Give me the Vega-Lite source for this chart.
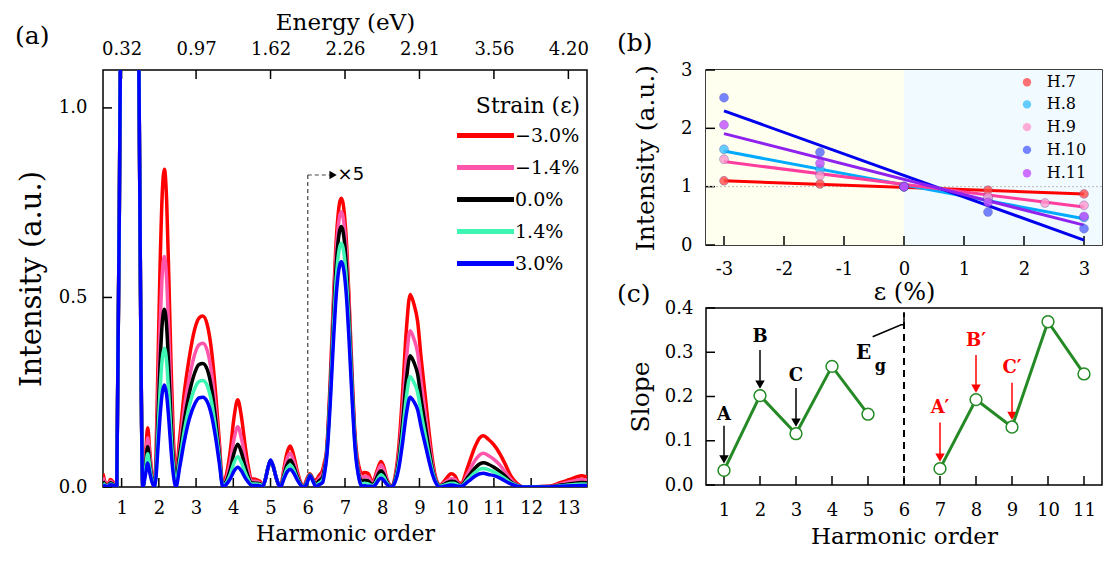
{
  "$schema": "https://vega.github.io/schema/vega-lite/v6.json",
  "padding": {"left": 14, "top": 10, "right": 0, "bottom": 0},
  "background": "white",
  "bounds": "flush",
  "spacing": 119,
  "resolve": {"scale": {"color": "independent", "stroke": "independent"}, "legend": {"color": "independent"}},
  "config": {
    "font": "DejaVu Serif",
    "view": {"stroke": "black", "strokeWidth": 1.5},
    "legend": {"padding": 0, "offset": 0},
    "title": {"font": "DejaVu Serif", "fontSize": 25, "fontWeight": "normal", "color": "black"},
    "text": {"font": "DejaVu Serif"}
  },
  "hconcat": [
    {
      "width": 484,
      "height": 417,
      "title": {"text": "(a)", "anchor": "start", "frame": "group", "dx": -88, "dy": 38, "offset": 0},
      "data": {"values": [
        {"h":0.5,"r":0.035,"p":0.025,"k":0.015,"g":0.01,"b":0.005},
        {"h":0.56,"r":0.012,"p":0.009,"k":0.006,"g":0.004,"b":0.003},
        {"h":0.62,"r":0.004,"p":0.003,"k":0.002,"g":0.002,"b":0.001},
        {"h":0.7,"r":0.02,"p":0.015,"k":0.011,"g":0.008,"b":0.006},
        {"h":0.78,"r":0.012,"p":0.009,"k":0.007,"g":0.005,"b":0.004},
        {"h":0.84,"r":0.003,"p":0.002,"k":0.002,"g":0.001,"b":0.001},
        {"h":0.87,"r":0,"p":0,"k":0,"g":0,"b":0},
        {"h":0.975,"r":1.25,"p":1.25,"k":1.25,"g":1.25,"b":1.25},
        {"h":1.2,"r":3,"p":3,"k":3,"g":3,"b":3},
        {"h":1.45,"r":1.25,"p":1.25,"k":1.25,"g":1.25,"b":1.25},
        {"h":1.57,"r":0,"p":0,"k":0,"g":0,"b":0},
        {"h":1.64,"r":0.078,"p":0.065,"k":0.053,"g":0.044,"b":0.032},
        {"h":1.7,"r":0.156,"p":0.13,"k":0.106,"g":0.088,"b":0.063},
        {"h":1.76,"r":0.09,"p":0.075,"k":0.06,"g":0.05,"b":0.036},
        {"h":1.82,"r":0.03,"p":0.025,"k":0.02,"g":0.016,"b":0.012},
        {"h":1.88,"r":0.005,"p":0.003,"k":0.002,"g":0.001,"b":0},
        {"h":1.92,"r":0.067,"p":0.049,"k":0.038,"g":0.029,"b":0.022},
        {"h":1.97,"r":0.293,"p":0.213,"k":0.164,"g":0.128,"b":0.094},
        {"h":2.03,"r":0.57,"p":0.413,"k":0.319,"g":0.249,"b":0.183},
        {"h":2.09,"r":0.771,"p":0.559,"k":0.431,"g":0.337,"b":0.247},
        {"h":2.15,"r":0.838,"p":0.608,"k":0.469,"g":0.366,"b":0.269},
        {"h":2.21,"r":0.754,"p":0.547,"k":0.422,"g":0.329,"b":0.242},
        {"h":2.27,"r":0.545,"p":0.395,"k":0.305,"g":0.238,"b":0.175},
        {"h":2.33,"r":0.313,"p":0.228,"k":0.174,"g":0.133,"b":0.094},
        {"h":2.39,"r":0.13,"p":0.093,"k":0.071,"g":0.052,"b":0.032},
        {"h":2.46,"r":0.04,"p":0.03,"k":0.02,"g":0.01,"b":0},
        {"h":2.56,"r":0.129,"p":0.103,"k":0.087,"g":0.07,"b":0.052},
        {"h":2.68,"r":0.246,"p":0.205,"k":0.173,"g":0.146,"b":0.119},
        {"h":2.82,"r":0.343,"p":0.288,"k":0.248,"g":0.214,"b":0.18},
        {"h":2.96,"r":0.415,"p":0.349,"k":0.3,"g":0.259,"b":0.218},
        {"h":3.08,"r":0.446,"p":0.375,"k":0.323,"g":0.278,"b":0.235},
        {"h":3.18,"r":0.451,"p":0.379,"k":0.326,"g":0.281,"b":0.237},
        {"h":3.3,"r":0.428,"p":0.36,"k":0.31,"g":0.267,"b":0.225},
        {"h":3.42,"r":0.356,"p":0.299,"k":0.258,"g":0.222,"b":0.187},
        {"h":3.52,"r":0.253,"p":0.212,"k":0.183,"g":0.157,"b":0.133},
        {"h":3.62,"r":0.126,"p":0.106,"k":0.091,"g":0.079,"b":0.066},
        {"h":3.72,"r":0.005,"p":0.004,"k":0.003,"g":0.002,"b":0},
        {"h":3.82,"r":0.035,"p":0.024,"k":0.017,"g":0.012,"b":0.008},
        {"h":3.92,"r":0.097,"p":0.067,"k":0.047,"g":0.034,"b":0.022},
        {"h":4.02,"r":0.184,"p":0.127,"k":0.09,"g":0.064,"b":0.042},
        {"h":4.12,"r":0.23,"p":0.159,"k":0.113,"g":0.08,"b":0.052},
        {"h":4.22,"r":0.184,"p":0.127,"k":0.09,"g":0.064,"b":0.042},
        {"h":4.32,"r":0.107,"p":0.075,"k":0.053,"g":0.038,"b":0.024},
        {"h":4.4,"r":0.055,"p":0.039,"k":0.027,"g":0.02,"b":0.013},
        {"h":4.48,"r":0.022,"p":0.016,"k":0.011,"g":0.008,"b":0.005},
        {"h":4.6,"r":0.02,"p":0.015,"k":0.01,"g":0.008,"b":0.004},
        {"h":4.72,"r":0.015,"p":0.011,"k":0.008,"g":0.006,"b":0.003},
        {"h":4.78,"r":0,"p":0,"k":0,"g":0,"b":0},
        {"h":4.86,"r":0.02,"p":0.02,"k":0.02,"g":0.02,"b":0.02},
        {"h":4.93,"r":0.05,"p":0.05,"k":0.05,"g":0.05,"b":0.05},
        {"h":5.0,"r":0.068,"p":0.069,"k":0.07,"g":0.07,"b":0.071},
        {"h":5.07,"r":0.055,"p":0.055,"k":0.055,"g":0.055,"b":0.055},
        {"h":5.15,"r":0.025,"p":0.025,"k":0.025,"g":0.025,"b":0.025},
        {"h":5.22,"r":0.005,"p":0.005,"k":0.005,"g":0.005,"b":0.005},
        {"h":5.27,"r":0,"p":0,"k":0,"g":0,"b":0},
        {"h":5.35,"r":0.043,"p":0.036,"k":0.028,"g":0.023,"b":0.019},
        {"h":5.44,"r":0.089,"p":0.073,"k":0.058,"g":0.048,"b":0.039},
        {"h":5.53,"r":0.108,"p":0.089,"k":0.071,"g":0.058,"b":0.047},
        {"h":5.62,"r":0.084,"p":0.069,"k":0.055,"g":0.045,"b":0.037},
        {"h":5.72,"r":0.041,"p":0.034,"k":0.027,"g":0.022,"b":0.018},
        {"h":5.82,"r":0.009,"p":0.007,"k":0.006,"g":0.005,"b":0.004},
        {"h":5.88,"r":0,"p":0,"k":0,"g":0,"b":0},
        {"h":5.97,"r":0.02,"p":0.015,"k":0.012,"g":0.01,"b":0.008},
        {"h":6.06,"r":0.035,"p":0.033,"k":0.032,"g":0.031,"b":0.03},
        {"h":6.14,"r":0.022,"p":0.02,"k":0.018,"g":0.016,"b":0.015},
        {"h":6.22,"r":0.018,"p":0.012,"k":0.008,"g":0.004,"b":0},
        {"h":6.3,"r":0.03,"p":0.022,"k":0.016,"g":0.01,"b":0.006},
        {"h":6.4,"r":0.045,"p":0.035,"k":0.026,"g":0.019,"b":0.012},
        {"h":6.45,"r":0.066,"p":0.056,"k":0.049,"g":0.039,"b":0.036},
        {"h":6.5,"r":0.091,"p":0.087,"k":0.082,"g":0.077,"b":0.071},
        {"h":6.55,"r":0.168,"p":0.16,"k":0.151,"g":0.141,"b":0.131},
        {"h":6.6,"r":0.274,"p":0.261,"k":0.247,"g":0.231,"b":0.214},
        {"h":6.65,"r":0.396,"p":0.378,"k":0.357,"g":0.334,"b":0.309},
        {"h":6.7,"r":0.518,"p":0.494,"k":0.467,"g":0.437,"b":0.404},
        {"h":6.75,"r":0.625,"p":0.595,"k":0.563,"g":0.527,"b":0.487},
        {"h":6.8,"r":0.701,"p":0.668,"k":0.632,"g":0.592,"b":0.546},
        {"h":6.85,"r":0.747,"p":0.711,"k":0.673,"g":0.63,"b":0.582},
        {"h":6.9,"r":0.762,"p":0.726,"k":0.687,"g":0.643,"b":0.594},
        {"h":6.95,"r":0.747,"p":0.711,"k":0.673,"g":0.63,"b":0.582},
        {"h":7.0,"r":0.701,"p":0.668,"k":0.632,"g":0.592,"b":0.546},
        {"h":7.05,"r":0.625,"p":0.595,"k":0.563,"g":0.527,"b":0.487},
        {"h":7.1,"r":0.518,"p":0.494,"k":0.467,"g":0.437,"b":0.404},
        {"h":7.15,"r":0.396,"p":0.378,"k":0.357,"g":0.334,"b":0.309},
        {"h":7.2,"r":0.274,"p":0.261,"k":0.247,"g":0.231,"b":0.214},
        {"h":7.25,"r":0.168,"p":0.16,"k":0.151,"g":0.141,"b":0.131},
        {"h":7.3,"r":0.101,"p":0.092,"k":0.084,"g":0.077,"b":0.071},
        {"h":7.35,"r":0.066,"p":0.054,"k":0.045,"g":0.039,"b":0.036},
        {"h":7.4,"r":0.045,"p":0.033,"k":0.022,"g":0.015,"b":0.012},
        {"h":7.45,"r":0.035,"p":0.025,"k":0.015,"g":0.008,"b":0.002},
        {"h":7.52,"r":0.038,"p":0.028,"k":0.018,"g":0.01,"b":0.003},
        {"h":7.62,"r":0.036,"p":0.026,"k":0.016,"g":0.008,"b":0.002},
        {"h":7.7,"r":0.02,"p":0.014,"k":0.009,"g":0.005,"b":0.002},
        {"h":7.76,"r":0.015,"p":0.01,"k":0.006,"g":0.004,"b":0.001},
        {"h":7.84,"r":0.037,"p":0.03,"k":0.021,"g":0.014,"b":0.009},
        {"h":7.91,"r":0.057,"p":0.049,"k":0.037,"g":0.027,"b":0.02},
        {"h":7.97,"r":0.067,"p":0.058,"k":0.043,"g":0.032,"b":0.023},
        {"h":8.04,"r":0.054,"p":0.046,"k":0.034,"g":0.026,"b":0.018},
        {"h":8.12,"r":0.023,"p":0.02,"k":0.015,"g":0.011,"b":0.008},
        {"h":8.2,"r":0.005,"p":0.004,"k":0.003,"g":0.002,"b":0.001},
        {"h":8.25,"r":0,"p":0,"k":0,"g":0,"b":0},
        {"h":8.35,"r":0.03,"p":0.025,"k":0.021,"g":0.017,"b":0.014},
        {"h":8.45,"r":0.112,"p":0.091,"k":0.076,"g":0.064,"b":0.052},
        {"h":8.55,"r":0.254,"p":0.206,"k":0.173,"g":0.146,"b":0.119},
        {"h":8.65,"r":0.417,"p":0.338,"k":0.284,"g":0.239,"b":0.194},
        {"h":8.75,"r":0.508,"p":0.412,"k":0.346,"g":0.291,"b":0.237},
        {"h":8.85,"r":0.483,"p":0.391,"k":0.329,"g":0.276,"b":0.225},
        {"h":8.95,"r":0.437,"p":0.354,"k":0.298,"g":0.25,"b":0.204},
        {"h":9.05,"r":0.335,"p":0.272,"k":0.228,"g":0.192,"b":0.156},
        {"h":9.15,"r":0.244,"p":0.198,"k":0.166,"g":0.14,"b":0.114},
        {"h":9.25,"r":0.152,"p":0.124,"k":0.104,"g":0.087,"b":0.071},
        {"h":9.35,"r":0.071,"p":0.058,"k":0.048,"g":0.041,"b":0.033},
        {"h":9.45,"r":0.02,"p":0.016,"k":0.014,"g":0.012,"b":0.009},
        {"h":9.55,"r":0.005,"p":0.004,"k":0.003,"g":0.002,"b":0},
        {"h":9.7,"r":0.02,"p":0.013,"k":0.009,"g":0.006,"b":0.003},
        {"h":9.85,"r":0.035,"p":0.022,"k":0.015,"g":0.01,"b":0.005},
        {"h":9.95,"r":0.03,"p":0.02,"k":0.014,"g":0.009,"b":0.004},
        {"h":10.05,"r":0.012,"p":0.008,"k":0.006,"g":0.004,"b":0.002},
        {"h":10.12,"r":0.01,"p":0.006,"k":0.004,"g":0.003,"b":0.002},
        {"h":10.3,"r":0.054,"p":0.036,"k":0.026,"g":0.02,"b":0.014},
        {"h":10.5,"r":0.108,"p":0.071,"k":0.051,"g":0.039,"b":0.029},
        {"h":10.62,"r":0.13,"p":0.085,"k":0.061,"g":0.047,"b":0.035},
        {"h":10.72,"r":0.135,"p":0.089,"k":0.064,"g":0.049,"b":0.036},
        {"h":10.85,"r":0.126,"p":0.083,"k":0.06,"g":0.046,"b":0.033},
        {"h":11.0,"r":0.111,"p":0.073,"k":0.052,"g":0.04,"b":0.03},
        {"h":11.15,"r":0.089,"p":0.059,"k":0.042,"g":0.032,"b":0.024},
        {"h":11.3,"r":0.061,"p":0.04,"k":0.029,"g":0.022,"b":0.016},
        {"h":11.45,"r":0.03,"p":0.02,"k":0.014,"g":0.011,"b":0.008},
        {"h":11.6,"r":0.011,"p":0.007,"k":0.005,"g":0.004,"b":0.003},
        {"h":11.8,"r":0,"p":0,"k":0,"g":0,"b":0},
        {"h":12.5,"r":0.002,"p":0.001,"k":0.001,"g":0,"b":0},
        {"h":12.8,"r":0.012,"p":0.008,"k":0.005,"g":0.003,"b":0.002},
        {"h":13.1,"r":0.022,"p":0.015,"k":0.009,"g":0.006,"b":0.003},
        {"h":13.35,"r":0.03,"p":0.02,"k":0.012,"g":0.008,"b":0.004},
        {"h":13.5,"r":0.026,"p":0.018,"k":0.011,"g":0.007,"b":0.004}
      ]},
      "layer": [
        {
          "data": {"values": [{"h": 1}, {"h": 2}, {"h": 3}, {"h": 4}, {"h": 5}, {"h": 6}, {"h": 7}, {"h": 8}, {"h": 9}, {"h": 10}, {"h": 11}, {"h": 12}, {"h": 13}]},
          "mark": {"type": "rule", "strokeWidth": 1.5, "color": "black"},
          "encoding": {
            "x": {"field": "h", "type": "quantitative", "axis": null},
            "y": {"datum": 0, "type": "quantitative", "axis": null},
            "y2": {"datum": 0.0237}
          }
        },
        {
          "data": {"values": [{"h": 1}, {"h": 3}, {"h": 5}, {"h": 7}, {"h": 9}, {"h": 11}, {"h": 13}]},
          "mark": {"type": "rule", "strokeWidth": 1.5, "color": "black"},
          "encoding": {
            "x": {"field": "h", "type": "quantitative", "axis": null},
            "y": {"datum": 1.1, "type": "quantitative", "axis": null},
            "y2": {"datum": 1.0763}
          }
        },
        {
          "data": {"values": [{"v": 0}, {"v": 0.5}, {"v": 1}]},
          "mark": {"type": "rule", "strokeWidth": 1.5, "color": "black"},
          "encoding": {
            "y": {"field": "v", "type": "quantitative", "axis": null},
            "x": {"datum": 0.5, "type": "quantitative", "axis": null},
            "x2": {"datum": 0.742}
          }
        },
        {
          "data": {"values": [{"h": 6.0, "y": 0, "y2": 0.823}]},
          "mark": {"type": "rule", "strokeDash": [4, 3], "strokeWidth": 1.2, "color": "#444444"},
          "encoding": {
            "x": {"field": "h", "type": "quantitative", "axis": null},
            "y": {"field": "y", "type": "quantitative", "axis": null},
            "y2": {"field": "y2"}
          }
        },
        {
          "data": {"values": [{"h": 6.0, "h2": 6.6, "y": 0.823}]},
          "mark": {"type": "rule", "strokeDash": [4, 3], "strokeWidth": 1.2, "color": "#444444"},
          "encoding": {
            "x": {"field": "h", "type": "quantitative", "axis": null},
            "x2": {"field": "h2"},
            "y": {"field": "y", "type": "quantitative", "axis": null}
          }
        },
        {
          "data": {"values": [{"h": 6.68, "y": 0.823}]},
          "mark": {"type": "point", "shape": "triangle-right", "filled": true, "size": 70, "color": "black", "opacity": 1},
          "encoding": {
            "x": {"field": "h", "type": "quantitative", "axis": null},
            "y": {"field": "y", "type": "quantitative", "axis": null}
          }
        },
        {
          "data": {"values": [{"h": 6.8, "y": 0.823, "t": "×5"}]},
          "mark": {"type": "text", "align": "left", "baseline": "middle", "font": "DejaVu Sans", "fontSize": 18, "color": "black"},
          "encoding": {
            "x": {"field": "h", "type": "quantitative", "axis": null},
            "y": {"field": "y", "type": "quantitative", "axis": null},
            "text": {"field": "t"}
          }
        },
        {
          "transform": [{"fold": ["r", "p", "k", "g", "b"], "as": ["s", "y"]}],
          "mark": {"type": "line", "interpolate": "monotone", "strokeWidth": 3.5, "clip": true},
          "encoding": {
            "x": {"field": "h", "type": "quantitative", "scale": {"domain": [0.5, 13.5], "nice": false, "zero": false},
                  "axis": {"values": [1,2,3,4,5,6,7,8,9,10,11,12,13], "title": "Harmonic order", "labelPadding": 12, "titlePadding": 6,
                           "labelFont": "DejaVu Serif", "titleFont": "DejaVu Serif", "labelFontSize": 18, "titleFontSize": 22, "labelColor": "black", "titleColor": "black", "titleFontWeight": "normal", "ticks": true, "tickSize": 0, "tickOpacity": 0, "offset": 0, "domain": false, "grid": false, "labelOverlap": false, "labelFlush": false, "labelBound": false}},
            "y": {"field": "y", "type": "quantitative", "scale": {"domain": [0, 1.1], "nice": false},
                  "axis": {"values": [0, 0.5, 1], "format": ".1f", "title": "Intensity (a.u.)", "labelPadding": 16, "titlePadding": 12,
                           "labelFont": "DejaVu Serif", "titleFont": "DejaVu Serif", "labelFontSize": 18, "titleFontSize": 29, "labelColor": "black", "titleColor": "black", "titleFontWeight": "normal", "ticks": true, "tickSize": 0, "tickOpacity": 0, "offset": 0, "domain": false, "grid": false, "labelOverlap": false, "labelFlush": false, "labelBound": false}},
            "color": {"field": "s", "type": "nominal",
                      "scale": {"domain": ["r", "p", "k", "g", "b"], "range": ["#ff0000", "#ff55aa", "#000000", "#3ff5b4", "#0000ff"]},
                      "legend": {"orient": "none", "legendX": 373, "legendY": 26, "zindex": 1, "title": "Strain (ε)", "titleFont": "DejaVu Serif", "labelFont": "DejaVu Serif", "titleColor": "black", "labelColor": "black", "titleFontWeight": "normal", "titleFontSize": 22, "titleAnchor": "middle", "titlePadding": 8, "labelFontSize": 19,
                                 "symbolType": "M-5,0H5", "symbolSize": 130, "symbolStrokeWidth": 5, "rowPadding": 11, "labelOffset": 20,
                                 "labelExpr": "datum.label == 'r' ? '−3.0%' : datum.label == 'p' ? '−1.4%' : datum.label == 'k' ? '\u00a0\u00a00.0%' : datum.label == 'g' ? '\u00a0\u00a01.4%' : '\u00a0\u00a03.0%'"}}
          }
        },
        {
          "data": {"values": [{"h": 1}]},
          "mark": {"type": "rule", "opacity": 0},
          "encoding": {
            "x": {"field": "h", "type": "quantitative",
                  "axis": {"orient": "top", "values": [1, 3, 5, 7, 9, 11, 13], "title": "Energy (eV)", "labelPadding": 12, "titlePadding": 6,
                           "labelFont": "DejaVu Serif", "titleFont": "DejaVu Serif", "labelFontSize": 18, "titleFontSize": 23, "labelColor": "black", "titleColor": "black", "titleFontWeight": "normal", "ticks": true, "tickSize": 0, "tickOpacity": 0, "offset": 0, "domain": false, "grid": false, "labelOverlap": false, "labelFlush": false, "labelBound": false,
                           "labelExpr": "datum.value == 1 ? '0.32' : datum.value == 3 ? '0.97' : datum.value == 5 ? '1.62' : datum.value == 7 ? '2.26' : datum.value == 9 ? '2.91' : datum.value == 11 ? '3.56' : '4.20'"}}
          }
        }
      ],
      "resolve": {"axis": {"x": "independent", "y": "independent"}}
    },
    {
      "vconcat": [
        {
          "width": 396,
          "height": 175,
          "title": {"text": "(b)", "anchor": "start", "frame": "group", "dx": -89, "offset": 5},
          "layer": [
            {
              "data": {"values": [{"x": -3.3, "x2": 0}]},
              "mark": {"type": "rect", "color": "#fffff0"},
              "encoding": {
                "x": {"field": "x", "type": "quantitative", "scale": {"domain": [-3.3, 3.3], "nice": false, "zero": false},
                      "axis": {"values": [-3, -2, -1, 0, 1, 2, 3], "labelExpr": "'' + datum.value", "title": "ε (%)", "labelPadding": 15, "titlePadding": 2,
                               "labelFont": "DejaVu Serif", "titleFont": "DejaVu Serif", "labelFontSize": 18, "titleFontSize": 24, "labelColor": "black", "titleColor": "black", "titleFontWeight": "normal", "ticks": true, "tickSize": 0, "tickOpacity": 0, "offset": 0, "domain": false, "grid": false, "labelOverlap": false, "labelFlush": false, "labelBound": false}},
                "x2": {"field": "x2"}
              }
            },
            {
              "data": {"values": [{"x": 0, "x2": 3.3}]},
              "mark": {"type": "rect", "color": "#f0faff"},
              "encoding": {
                "x": {"field": "x", "type": "quantitative", "axis": null},
                "x2": {"field": "x2"}
              }
            },
            {
              "data": {"values": [{"v": -3}, {"v": -2}, {"v": -1}, {"v": 0}, {"v": 1}, {"v": 2}, {"v": 3}]},
              "mark": {"type": "rule", "strokeWidth": 1.5, "color": "black"},
              "encoding": {
                "x": {"field": "v", "type": "quantitative", "axis": null},
                "y": {"datum": 0, "type": "quantitative", "axis": null},
                "y2": {"datum": 0.154}
              }
            },
            {
              "data": {"values": [{"v": 0}, {"v": 1}, {"v": 2}, {"v": 3}]},
              "mark": {"type": "rule", "strokeWidth": 1.5, "color": "black"},
              "encoding": {
                "y": {"field": "v", "type": "quantitative", "axis": null},
                "x": {"datum": -3.3, "type": "quantitative", "axis": null},
                "x2": {"datum": -3.15}
              }
            },
            {
              "data": {"values": [{"y": 1}]},
              "mark": {"type": "rule", "strokeDash": [2, 2], "color": "#bbbbbb", "strokeWidth": 1},
              "encoding": {"y": {"field": "y", "type": "quantitative", "axis": null}}
            },
            {
              "data": {"values": [
                {"x": -3, "y": 1.10, "L": "H.7"}, {"x": 3, "y": 0.875, "L": "H.7"},
                {"x": -3, "y": 1.61, "L": "H.8"}, {"x": 3, "y": 0.45, "L": "H.8"},
                {"x": -3, "y": 1.43, "L": "H.9"}, {"x": 3, "y": 0.65, "L": "H.9"},
                {"x": -3, "y": 2.30, "L": "H.10"}, {"x": 3, "y": 0.085, "L": "H.10"},
                {"x": -3, "y": 1.91, "L": "H.11"}, {"x": 3, "y": 0.34, "L": "H.11"}
              ]},
              "mark": {"type": "line", "strokeWidth": 3},
              "encoding": {
                "x": {"field": "x", "type": "quantitative", "axis": null},
                "y": {"field": "y", "type": "quantitative", "scale": {"domain": [0, 3], "nice": false},
                      "axis": {"values": [0, 1, 2, 3], "format": "d", "title": "Intensity (a.u.)", "labelPadding": 14, "titlePadding": 22,
                               "labelFont": "DejaVu Serif", "titleFont": "DejaVu Serif", "labelFontSize": 18, "titleFontSize": 25, "labelColor": "black", "titleColor": "black", "titleFontWeight": "normal", "ticks": true, "tickSize": 0, "tickOpacity": 0, "offset": 0, "domain": false, "grid": false, "labelOverlap": false, "labelFlush": false, "labelBound": false}},
                "stroke": {"field": "L", "type": "nominal", "scale": {"domain": ["H.7", "H.8", "H.9", "H.10", "H.11"], "range": ["#ff0000", "#00aaff", "#ff3d9e", "#0000ee", "#8f22ee"]}, "legend": null}
              }
            },
            {
              "data": {"values": [
                {"x": -3, "y": 1.10, "H": "H.7"}, {"x": -1.4, "y": 1.046, "H": "H.7"}, {"x": 0, "y": 1.0, "H": "H.7"}, {"x": 1.4, "y": 0.94, "H": "H.7"}, {"x": 3, "y": 0.876, "H": "H.7"},
                {"x": -3, "y": 1.64, "H": "H.8"}, {"x": -1.4, "y": 1.30, "H": "H.8"}, {"x": 0, "y": 1.0, "H": "H.8"}, {"x": 1.4, "y": 0.79, "H": "H.8"}, {"x": 3, "y": 0.47, "H": "H.8"},
                {"x": -3, "y": 1.47, "H": "H.9"}, {"x": -1.4, "y": 1.19, "H": "H.9"}, {"x": 0, "y": 1.0, "H": "H.9"}, {"x": 1.4, "y": 0.82, "H": "H.9"}, {"x": 2.35, "y": 0.72, "H": "H.9"}, {"x": 3, "y": 0.68, "H": "H.9"},
                {"x": -3, "y": 2.525, "H": "H.10"}, {"x": -1.4, "y": 1.59, "H": "H.10"}, {"x": 0, "y": 1.0, "H": "H.10"}, {"x": 1.4, "y": 0.565, "H": "H.10"}, {"x": 3, "y": 0.28, "H": "H.10"},
                {"x": -3, "y": 2.06, "H": "H.11"}, {"x": -1.4, "y": 1.40, "H": "H.11"}, {"x": 0, "y": 1.0, "H": "H.11"}, {"x": 1.4, "y": 0.73, "H": "H.11"}, {"x": 3, "y": 0.49, "H": "H.11"}
              ]},
              "mark": {"type": "point", "filled": true, "size": 80, "opacity": 0.8, "stroke": "#333399", "strokeOpacity": 0.35, "strokeWidth": 1},
              "encoding": {
                "x": {"field": "x", "type": "quantitative", "axis": null},
                "y": {"field": "y", "type": "quantitative", "axis": null},
                "color": {"field": "H", "type": "nominal", "scale": {"domain": ["H.7", "H.8", "H.9", "H.10", "H.11"], "range": ["#ff4d4d", "#3fc0ff", "#ff99cc", "#5566ff", "#c44dff"]}, "legend": null}
              }
            },
            {
              "data": {"values": [
                {"H": "H.7", "ly": 2.79}, {"H": "H.8", "ly": 2.41}, {"H": "H.9", "ly": 2.02}, {"H": "H.10", "ly": 1.63}, {"H": "H.11", "ly": 1.23}
              ]},
              "layer": [
                {
                  "mark": {"type": "point", "filled": true, "size": 70, "opacity": 0.8},
                  "encoding": {
                    "x": {"datum": 2.05, "type": "quantitative", "axis": null},
                    "y": {"field": "ly", "type": "quantitative", "axis": null},
                    "color": {"field": "H", "type": "nominal", "legend": null}
                  }
                },
                {
                  "mark": {"type": "text", "align": "left", "baseline": "middle", "fontSize": 16, "font": "DejaVu Serif", "color": "black"},
                  "encoding": {
                    "x": {"datum": 2.38, "type": "quantitative", "axis": null},
                    "y": {"field": "ly", "type": "quantitative", "axis": null},
                    "text": {"field": "H"}
                  }
                }
              ]
            }
          ],
          "resolve": {"axis": {"x": "independent", "y": "independent"}}
        },
        {
          "width": 396,
          "height": 177,
          "title": {"text": "(c)", "anchor": "start", "frame": "group", "dx": -89, "dy": 13, "offset": 5},
          "layer": [
            {
              "data": {"values": [{"h": 6, "y": 0, "y2": 0.39}]},
              "mark": {"type": "rule", "strokeDash": [7, 5], "strokeWidth": 2, "color": "black"},
              "encoding": {
                "x": {"field": "h", "type": "quantitative", "scale": {"domain": [0.5, 11.5], "nice": false, "zero": false},
                      "axis": {"values": [1,2,3,4,5,6,7,8,9,10,11], "title": "Harmonic order", "labelPadding": 16, "titlePadding": 6,
                               "labelFont": "DejaVu Serif", "titleFont": "DejaVu Serif", "labelFontSize": 18, "titleFontSize": 23, "labelColor": "black", "titleColor": "black", "titleFontWeight": "normal", "ticks": true, "tickSize": 0, "tickOpacity": 0, "offset": 0, "domain": false, "grid": false, "labelOverlap": false, "labelFlush": false, "labelBound": false}},
                "y": {"field": "y", "type": "quantitative", "scale": {"domain": [0, 0.4], "nice": false},
                      "axis": {"values": [0, 0.1, 0.2, 0.3, 0.4], "format": ".1f", "title": "Slope", "labelPadding": 13, "titlePadding": 11,
                               "labelFont": "DejaVu Serif", "titleFont": "DejaVu Serif", "labelFontSize": 18, "titleFontSize": 25, "labelColor": "black", "titleColor": "black", "titleFontWeight": "normal", "ticks": true, "tickSize": 0, "tickOpacity": 0, "offset": 0, "domain": false, "grid": false, "labelOverlap": false, "labelFlush": false, "labelBound": false}},
                "y2": {"field": "y2"}
              }
            },
            {
              "data": {"values": [{"v": 1}, {"v": 2}, {"v": 3}, {"v": 4}, {"v": 5}, {"v": 6}, {"v": 7}, {"v": 8}, {"v": 9}, {"v": 10}, {"v": 11}]},
              "mark": {"type": "rule", "strokeWidth": 1.5, "color": "black"},
              "encoding": {
                "x": {"field": "v", "type": "quantitative", "axis": null},
                "y": {"datum": 0, "type": "quantitative", "axis": null},
                "y2": {"datum": 0.0203}
              }
            },
            {
              "data": {"values": [{"v": 0}, {"v": 0.1}, {"v": 0.2}, {"v": 0.3}, {"v": 0.4}]},
              "mark": {"type": "rule", "strokeWidth": 1.5, "color": "black"},
              "encoding": {
                "y": {"field": "v", "type": "quantitative", "axis": null},
                "x": {"datum": 0.5, "type": "quantitative", "axis": null},
                "x2": {"datum": 0.75}
              }
            },
            {
              "data": {"values": [{"h": 5.13, "y": 0.335, "o": 1}, {"h": 5.92, "y": 0.362, "o": 2}, {"h": 6, "y": 0.362, "o": 3}, {"h": 6, "y": 0.39, "o": 4}]},
              "mark": {"type": "line", "strokeWidth": 1.5, "color": "black"},
              "encoding": {
                "x": {"field": "h", "type": "quantitative", "axis": null},
                "y": {"field": "y", "type": "quantitative", "axis": null},
                "order": {"field": "o"}
              }
            },
            {
              "data": {"values": [{"h": 4.88, "y": 0.298, "t": "E"}]},
              "mark": {"type": "text", "fontWeight": "bold", "fontSize": 20, "color": "black", "baseline": "middle"},
              "encoding": {"x": {"field": "h", "type": "quantitative", "axis": null}, "y": {"field": "y", "type": "quantitative", "axis": null}, "text": {"field": "t"}}
            },
            {
              "data": {"values": [{"h": 5.34, "y": 0.268, "t": "g"}]},
              "mark": {"type": "text", "fontWeight": "bold", "fontSize": 16, "color": "black", "baseline": "middle"},
              "encoding": {"x": {"field": "h", "type": "quantitative", "axis": null}, "y": {"field": "y", "type": "quantitative", "axis": null}, "text": {"field": "t"}}
            },
            {
              "data": {"values": [{"h": 1, "top": 0.134, "tri": 0.058}, {"h": 2, "top": 0.305, "tri": 0.227}, {"h": 3, "top": 0.219, "tri": 0.141}]},
              "layer": [
                {"mark": {"type": "rule", "strokeWidth": 1.5, "color": "black"},
                 "encoding": {"x": {"field": "h", "type": "quantitative", "axis": null}, "y": {"field": "top", "type": "quantitative", "axis": null}, "y2": {"field": "tri"}}},
                {"mark": {"type": "point", "shape": "triangle-down", "filled": true, "size": 90, "opacity": 1, "color": "black"},
                 "encoding": {"x": {"field": "h", "type": "quantitative", "axis": null}, "y": {"field": "tri", "type": "quantitative", "axis": null}}}
              ]
            },
            {
              "data": {"values": [{"h": 7, "top": 0.141, "tri": 0.062}, {"h": 8, "top": 0.294, "tri": 0.218}, {"h": 9, "top": 0.231, "tri": 0.156}]},
              "layer": [
                {"mark": {"type": "rule", "strokeWidth": 1.5, "color": "#ff0000"},
                 "encoding": {"x": {"field": "h", "type": "quantitative", "axis": null}, "y": {"field": "top", "type": "quantitative", "axis": null}, "y2": {"field": "tri"}}},
                {"mark": {"type": "point", "shape": "triangle-down", "filled": true, "size": 90, "opacity": 1, "color": "#ff0000"},
                 "encoding": {"x": {"field": "h", "type": "quantitative", "axis": null}, "y": {"field": "tri", "type": "quantitative", "axis": null}}}
              ]
            },
            {
              "data": {"values": [{"h": 1, "y": 0.158, "t": "A"}, {"h": 2, "y": 0.335, "t": "B"}, {"h": 3, "y": 0.247, "t": "C"}]},
              "mark": {"type": "text", "fontWeight": "bold", "fontSize": 18, "baseline": "middle", "color": "black"},
              "encoding": {"x": {"field": "h", "type": "quantitative", "axis": null}, "y": {"field": "y", "type": "quantitative", "axis": null}, "text": {"field": "t"}}
            },
            {
              "data": {"values": [{"h": 7, "y": 0.174, "t": "A′"}, {"h": 8, "y": 0.325, "t": "B′"}, {"h": 9, "y": 0.264, "t": "C′"}]},
              "mark": {"type": "text", "fontWeight": "bold", "fontSize": 18, "baseline": "middle", "color": "#ff0000"},
              "encoding": {"x": {"field": "h", "type": "quantitative", "axis": null}, "y": {"field": "y", "type": "quantitative", "axis": null}, "text": {"field": "t"}}
            },
            {
              "data": {"values": [
                {"h": 1, "s": 0.033, "seg": "low"}, {"h": 2, "s": 0.202, "seg": "low"}, {"h": 3, "s": 0.116, "seg": "low"}, {"h": 4, "s": 0.268, "seg": "low"}, {"h": 5, "s": 0.16, "seg": "low"},
                {"h": 7, "s": 0.037, "seg": "high"}, {"h": 8, "s": 0.193, "seg": "high"}, {"h": 9, "s": 0.131, "seg": "high"}, {"h": 10, "s": 0.369, "seg": "high"}, {"h": 11, "s": 0.251, "seg": "high"}
              ]},
              "layer": [
                {
                  "mark": {"type": "line", "strokeWidth": 3, "color": "#258a25"},
                  "encoding": {
                    "x": {"field": "h", "type": "quantitative", "axis": null},
                    "y": {"field": "s", "type": "quantitative", "axis": null},
                    "detail": {"field": "seg"}
                  }
                },
                {
                  "mark": {"type": "point", "filled": true, "fill": "white", "stroke": "#258a25", "strokeWidth": 1.5, "size": 140, "opacity": 1},
                  "encoding": {
                    "x": {"field": "h", "type": "quantitative", "axis": null},
                    "y": {"field": "s", "type": "quantitative", "axis": null}
                  }
                }
              ]
            }
          ],
          "resolve": {"axis": {"x": "independent", "y": "independent"}}
        }
      ],
      "spacing": 63,
      "bounds": "flush",
      "resolve": {"scale": {"color": "independent", "stroke": "independent"}, "legend": {"color": "independent"}}
    }
  ]
}
